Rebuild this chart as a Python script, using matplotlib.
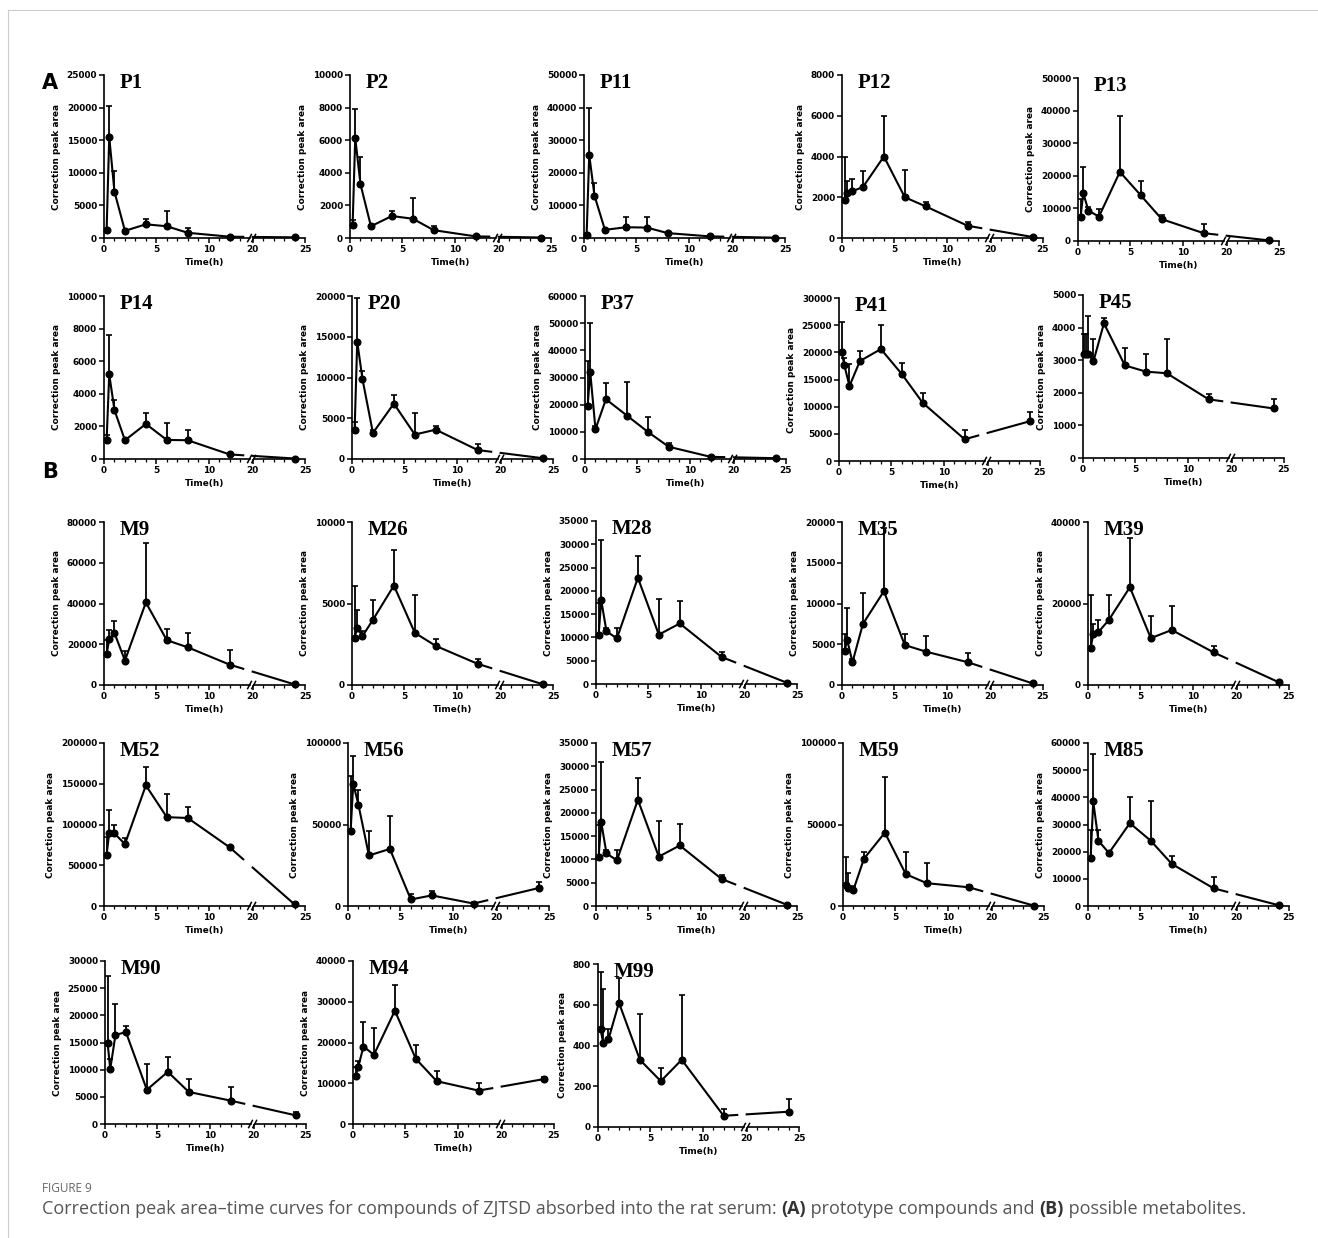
import numpy as np
import matplotlib
matplotlib.use("Agg")
import matplotlib.pyplot as plt
from matplotlib.lines import Line2D

# sampling times (h)
times = [0.25, 0.5, 1, 2, 4, 6, 8, 12, 24]
times_p45 = [0.083, 0.25, 0.5, 1, 2, 4, 6, 8, 12, 24]

# mean values and top of the error bar (mean + SD)
p1_mean = [1200, 15500, 7100, 1100, 2100, 1800, 800, 200, 100]
p1_top = [1400, 20300, 10300, 1200, 2900, 4200, 1500, 300, 150]
p2_mean = [800, 6150, 3300, 720, 1350, 1180, 480, 100, 30]
p2_top = [1100, 7900, 5000, 800, 1650, 2450, 750, 150, 50]
p11_mean = [1000, 25500, 13000, 2500, 3300, 3200, 1500, 500, 100]
p11_top = [1500, 40000, 17000, 2800, 6500, 6500, 1800, 700, 150]
p12_mean = [1850, 2200, 2300, 2500, 4000, 2000, 1550, 600, 50]
p12_top = [4000, 2800, 2900, 3300, 6000, 3350, 1750, 800, 80]
p13_mean = [7500, 14700, 9300, 7500, 21200, 14000, 6700, 2400, 200]
p13_top = [12800, 22700, 10500, 9800, 38300, 18500, 8000, 5200, 300]
p14_mean = [1150, 5200, 3000, 1150, 2150, 1170, 1150, 280, 30]
p14_top = [1500, 7600, 3650, 1250, 2800, 2200, 1800, 350, 50]
p20_mean = [3600, 14400, 9800, 3200, 6800, 3000, 3600, 1100, 100]
p20_top = [4600, 19800, 10800, 3600, 7900, 5600, 4000, 1900, 150]
p37_mean = [19500, 32000, 11000, 22000, 16000, 10000, 4500, 800, 300]
p37_top = [36000, 50000, 12000, 28000, 28500, 15500, 6000, 1200, 500]
p41_mean = [20100, 17700, 13800, 18400, 20600, 16000, 10700, 4000, 7300]
p41_top = [25500, 19000, 17900, 20300, 25000, 18100, 12500, 5700, 9100]
p45_mean = [3200, 3200, 3200, 2970, 4130, 2840, 2650, 2600, 1800, 1520]
p45_top = [3800, 3800, 4350, 3650, 4280, 3370, 3200, 3650, 1950, 1820]

m9_mean = [15200, 22500, 25500, 12000, 40500, 22000, 18500, 10000, 300]
m9_top = [22000, 27000, 31500, 16500, 69500, 27500, 25500, 17000, 500]
m26_mean = [2900, 3500, 3000, 4000, 6100, 3200, 2400, 1300, 50]
m26_top = [6100, 4600, 3300, 5200, 8300, 5500, 2800, 1600, 80]
m28_mean = [10500, 18000, 11300, 9800, 22800, 10600, 13000, 5800, 300]
m28_top = [17300, 31000, 12000, 12100, 27400, 18300, 17800, 6800, 400]
m35_mean = [4200, 5500, 2800, 7500, 11500, 4900, 4100, 2800, 200]
m35_top = [6200, 9500, 3200, 11300, 19300, 6300, 6000, 3900, 300]
m39_mean = [9000, 12500, 13000, 16000, 24000, 11500, 13500, 8000, 700]
m39_top = [22000, 15000, 16000, 22000, 36000, 17000, 19500, 9500, 1000]
m52_mean = [63000, 90000, 89000, 76000, 148000, 109000, 108000, 72000, 2000]
m52_top = [85000, 118000, 100000, 83000, 170000, 137000, 122000, 74000, 3000]
m56_mean = [46000, 75000, 62000, 31000, 35000, 4000, 6500, 1500, 11000]
m56_top = [80000, 92000, 71000, 46000, 55000, 7500, 9500, 2500, 14500]
m57_mean = [10500, 18000, 11300, 9800, 22800, 10600, 13000, 5800, 300]
m57_top = [17300, 31000, 12000, 12000, 27400, 18300, 17700, 6700, 400]
m59_mean = [13000, 11000, 10000, 29000, 45000, 19500, 14000, 11500, 300]
m59_top = [30000, 20000, 12000, 33000, 79000, 33000, 26500, 13000, 500]
m85_mean = [17500, 38500, 24000, 19500, 30500, 24000, 15500, 6500, 300]
m85_top = [28000, 56000, 28000, 20000, 40000, 38500, 18500, 10500, 500]
m90_mean = [14900, 10100, 16400, 16900, 6300, 9600, 5900, 4300, 1600]
m90_top = [27300, 12000, 22000, 18100, 11100, 12300, 8300, 6800, 2200]
m94_mean = [11800, 14000, 19000, 17000, 27800, 16000, 10500, 8200, 11000]
m94_top = [14000, 15500, 25000, 23500, 34000, 19500, 13000, 10000, 11500]
m99_mean = [480, 410, 430, 610, 330, 225, 330, 55, 75]
m99_top = [760, 675, 480, 730, 555, 290, 650, 90, 135]

SHIFT = 5.8          # hours removed by the axis break (20 h sits at 14.2)
BRK0, BRK1 = 13.9, 14.3
XMAX = 25 - SHIFT


def tx(t):
    t = np.asarray(t, dtype=float)
    return np.where(t < 14, t, t - SHIFT)


# name, times, mean, top, y max, y step, axes left (px), axes top (px)
panels = [
    ("P1", times, p1_mean, p1_top, 25000, 5000, 104, 75),
    ("P2", times, p2_mean, p2_top, 10000, 2000, 350, 75),
    ("P11", times, p11_mean, p11_top, 50000, 10000, 584, 75),
    ("P12", times, p12_mean, p12_top, 8000, 2000, 842, 75),
    ("P13", times, p13_mean, p13_top, 50000, 10000, 1078, 78),
    ("P14", times, p14_mean, p14_top, 10000, 2000, 104, 296),
    ("P20", times, p20_mean, p20_top, 20000, 5000, 352, 296),
    ("P37", times, p37_mean, p37_top, 60000, 10000, 585, 296),
    ("P41", times, p41_mean, p41_top, 30000, 5000, 839, 298),
    ("P45", times_p45, p45_mean, p45_top, 5000, 1000, 1083, 295),
    ("M9", times, m9_mean, m9_top, 80000, 20000, 104, 522),
    ("M26", times, m26_mean, m26_top, 10000, 5000, 352, 522),
    ("M28", times, m28_mean, m28_top, 35000, 5000, 596, 521),
    ("M35", times, m35_mean, m35_top, 20000, 5000, 842, 522),
    ("M39", times, m39_mean, m39_top, 40000, 20000, 1088, 522),
    ("M52", times, m52_mean, m52_top, 200000, 50000, 104, 743),
    ("M56", times, m56_mean, m56_top, 100000, 50000, 348, 743),
    ("M57", times, m57_mean, m57_top, 35000, 5000, 596, 743),
    ("M59", times, m59_mean, m59_top, 100000, 50000, 843, 743),
    ("M85", times, m85_mean, m85_top, 60000, 10000, 1088, 743),
    ("M90", times, m90_mean, m90_top, 30000, 5000, 105, 961),
    ("M94", times, m94_mean, m94_top, 40000, 10000, 353, 961),
    ("M99", times, m99_mean, m99_top, 800, 200, 598, 964),
]

W, H = 1318, 1238
fig = plt.figure(figsize=(W / 100, H / 100), dpi=100)
plt.rcParams["font.family"] = "DejaVu Sans"

AX_W, AX_H = 201, 163

for name, t, mean, top, ymax, ystep, left, ytop in panels:
    ax = fig.add_axes([left / W, 1 - (ytop + AX_H) / H, AX_W / W, AX_H / H])
    t = np.asarray(t, dtype=float)
    mean = np.asarray(mean, dtype=float)
    top = np.asarray(top, dtype=float)
    x = tx(t)
    sd = top - mean

    ax.errorbar(x, mean, yerr=[np.zeros_like(sd), sd], fmt="none", ecolor="k",
                elinewidth=1.3, capsize=2.2, capthick=1.2, clip_on=False, zorder=2)
    pre = t <= 12
    ax.plot(x[pre], mean[pre], color="k", lw=1.5, zorder=3)
    # segment crossing the axis break, drawn with a gap
    x0, y0 = x[pre][-1], mean[pre][-1]
    x1, y1 = x[~pre][0], mean[~pre][0]
    slope = (y1 - y0) / (x1 - x0)
    ax.plot([x0, 13.3], [y0, y0 + slope * (13.3 - x0)], color="k", lw=1.5, zorder=3)
    ax.plot([14.2, x1], [y0 + slope * (14.2 - x0), y1], color="k", lw=1.5, zorder=3)
    ax.plot(x, mean, "o", color="k", ms=4.8, zorder=4, clip_on=False)

    ax.set_xlim(0, XMAX)
    ax.set_ylim(0, ymax)
    ax.set_yticks(np.arange(0, ymax + 1, ystep))
    ax.set_xticks(tx([0, 5, 10, 20, 25]))
    ax.set_xticklabels(["0", "5", "10", "20", "25"])
    ax.set_xticks(tx([1, 2, 3, 4, 6, 7, 8, 9, 11, 12, 13, 21, 22, 23, 24]), minor=True)
    ax.tick_params(axis="both", which="major", direction="out", length=3.5, width=1.1,
                   labelsize=6.4, pad=1.5)
    ax.tick_params(axis="x", which="minor", direction="out", length=2, width=0.9)
    for lab in ax.get_xticklabels() + ax.get_yticklabels():
        lab.set_fontweight("bold")

    ax.spines["top"].set_visible(False)
    ax.spines["right"].set_visible(False)
    ax.spines["bottom"].set_visible(False)
    ax.spines["left"].set_linewidth(1.2)
    xt = ax.get_xaxis_transform()
    ax.plot([0, BRK0], [0, 0], color="k", lw=1.2, transform=xt, clip_on=False)
    ax.plot([BRK1, XMAX], [0, 0], color="k", lw=1.2, transform=xt, clip_on=False)
    for b in (BRK0, BRK1):
        ax.plot([b - 0.18, b + 0.18], [-0.022, 0.022], color="k", lw=1.1,
                transform=xt, clip_on=False)

    ax.set_ylabel("Correction peak area", fontsize=6.4, fontweight="bold", labelpad=4)
    ax.set_xlabel("Time(h)", fontsize=6.4, fontweight="bold", labelpad=3)
    ax.text(0.08, 1.01, name, transform=ax.transAxes, family="Liberation Serif",
            fontweight="bold", fontsize=15, va="top", ha="left")

fig.text(42 / W, 1 - 73 / H, "A", fontsize=15, fontweight="bold", va="top")
fig.text(42 / W, 1 - 462 / H, "B", fontsize=15, fontweight="bold", va="top")

# frame lines
fig.add_artist(Line2D([8 / W, 1], [1 - 10 / H, 1 - 10 / H], color="#cccccc", lw=0.8))
fig.add_artist(Line2D([8 / W, 8 / W], [0, 1 - 10 / H], color="#cccccc", lw=0.8))

fig.text(42 / W, 1 - 1188 / H, "FIGURE 9", fontsize=8.5, color="#666666",
         family="Open Sans", va="center")

pieces = [
    ("Correction peak area\u2013time curves for compounds of ZJTSD absorbed into the rat serum: ", "normal", "#555555"),
    ("(A)", "bold", "#333333"),
    (" prototype compounds and ", "normal", "#555555"),
    ("(B)", "bold", "#333333"),
    (" possible metabolites.", "normal", "#555555"),
]
renderer = fig.canvas.get_renderer()
xpos = 42 / W
for s, w, c in pieces:
    txt = fig.text(xpos, 1 - 1209 / H, s, fontsize=12.95, color=c,
                   family="Open Sans", fontweight=w, va="center")
    bb = txt.get_window_extent(renderer)
    xpos += bb.width / W

fig.savefig("out.png", dpi=100)
